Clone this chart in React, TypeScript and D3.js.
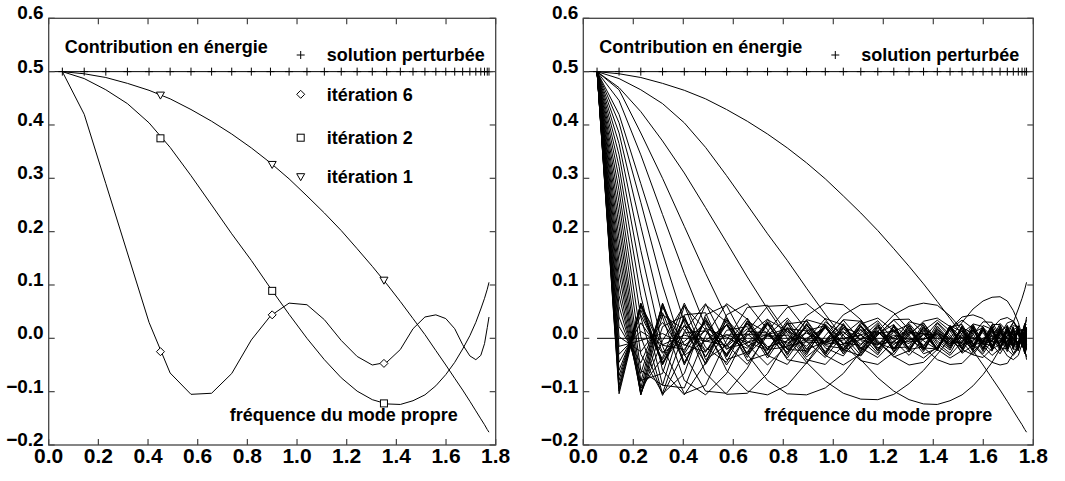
import React from "react";
import * as d3 from "d3";

// Mode frequencies (x positions of the "+" marks)
const NODES = [0.055, 0.143, 0.230, 0.317, 0.404, 0.489, 0.573, 0.656, 0.737, 0.816, 0.893, 0.968, 1.040, 1.110, 1.178, 1.242, 1.303, 1.361, 1.416, 1.467, 1.515, 1.559, 1.599, 1.635, 1.667, 1.696, 1.720, 1.740, 1.755, 1.766, 1.773];
const SOLUTION = [.5,.5,.5,.5,.5,.5,.5,.5,.5,.5,.5,.5,.5,.5,.5,.5,.5,.5,.5,.5,.5,.5,.5,.5,.5,.5,.5,.5,.5,.5,.5];
const ZERO = [0,0,0,0,0,0,0,0,0,0,0,0,0,0,0,0,0,0,0,0,0,0,0,0,0,0,0,0,0,0,0];

const IT1 = [.5,.496,.489,.478,.465,.449,.429,.407,.383,.357,.329,.299,.267,.235,.202,.168,.135,.102,.069,.037,.007,-.023,-.05,-.075,-.097,-.118,-.136,-.151,-.162,-.171,-.176];
const IT2 = [.5,.487,.466,.44,.404,.358,.305,.25,.196,.146,.094,.045,0,-.04,-.074,-.099,-.115,-.123,-.124,-.117,-.106,-.089,-.068,-.045,-.02,.005,.03,.055,.075,.092,.105];
const IT3 = [.5,.47,.425,.37,.31,.245,.18,.115,.055,0,-.045,-.08,-.103,-.114,-.115,-.105,-.085,-.06,-.03,0,.03,.055,.07,.077,.078,.07,.052,.03,.005,-.02,-.04];
const IT4 = [.5,.466,.385,.3,.21,.122,.04,-.03,-.079,-.104,-.106,-.093,-.066,-.025,.013,.044,.06,.066,.062,.042,.016,-.012,-.032,-.045,-.05,-.047,-.029,-.013,.006,.023,.035];
const IT5 = [.5,.446,.344,.232,.122,.022,-.06,-.099,-.106,-.088,-.046,.005,.044,.063,.065,.048,.016,-.017,-.04,-.049,-.047,-.026,-.004,.019,.035,.039,.032,.014,-.006,-.025,-.035];
const IT6 = [.5,.42,.29,.16,.03,-.065,-.105,-.103,-.066,-.003,.042,.066,.063,.035,-.004,-.034,-.05,-.045,-.021,.018,.04,.044,.037,.018,-.012,-.033,-.04,-.032,-.01,.02,.04];
const IT7 = [.5,.404,.255,.1,-.03,-.099,-.103,-.056,.013,.058,.065,.036,-.012,-.042,-.049,-.026,.006,.032,.038,.022,-.006,-.031,-.036,-.019,.007,.029,.033,.018,-.008,-.028,-.031];
const IT8 = [.5,.385,.21,.04,-.079,-.106,-.066,.013,.06,.062,.016,-.032,-.05,-.029,.006,.035,.036,.01,-.021,-.037,-.023,.007,.031,.03,.006,-.021,-.032,-.019,.008,.028,.026];
const IT9 = [.5,.365,.165,-.015,-.104,-.088,-.004,.058,.062,.009,-.04,-.049,-.013,.027,.038,.014,-.021,-.037,-.016,.018,.034,.018,-.014,-.032,-.019,.013,.03,.019,-.009,-.029,-.02];
const IT10 = [.5,.344,.122,-.06,-.106,-.046,.044,.065,.016,-.04,-.047,-.004,.035,.032,-.006,-.035,-.023,.014,.034,.014,-.021,-.031,-.006,.026,.026,-.003,-.028,-.02,.01,.028,.013];
const IT11 = [.5,.322,.08,-.088,-.093,.005,.065,.036,-.032,-.049,-.004,.037,.025,-.018,-.036,-.005,.031,.024,-.014,-.032,-.006,.027,.022,-.012,-.029,-.006,.024,.021,-.01,-.028,-.007];
const IT12 = [.5,.3,.04,-.104,-.066,.044,.062,-.012,-.05,-.013,.035,.025,-.021,-.033,.007,.034,.006,-.029,-.019,.021,.026,-.009,-.029,-.003,.028,.013,-.02,-.021,.011,.025,0];
const IT13 = [.5,.277,.003,-.107,-.025,.063,.03,-.042,-.029,.027,.032,-.018,-.033,.011,.033,-.004,-.032,-.001,.03,.007,-.028,-.013,.024,.017,-.02,-.019,.016,.022,-.011,-.023,.006];
const IT14 = [.5,.255,-.03,-.103,.013,.065,-.012,-.049,.006,.038,-.006,-.036,.007,.033,-.008,-.031,.008,.029,-.009,-.028,.01,.026,-.01,-.024,.011,.024,-.011,-.023,.012,.022,-.012];
const IT15 = [.5,.232,-.06,-.088,.044,.048,-.04,-.026,.035,.014,-.035,-.005,.034,-.004,-.031,.013,.026,-.018,-.02,.023,.013,-.026,-.007,.025,0,-.025,.006,.022,-.012,-.019,.017];
const IT16 = [.5,.21,-.079,-.066,.06,.016,-.05,.006,.036,-.021,-.023,.031,.006,-.032,.008,.026,-.021,-.016,.028,.002,-.026,.011,.02,-.021,-.01,.024,-.002,-.023,.013,.017,-.02];
const IT17 = [.5,.187,-.094,-.036,.066,-.017,-.045,.032,.01,-.037,.014,.024,-.029,-.001,.029,-.018,-.016,.028,-.005,-.022,.02,.009,-.025,.01,.018,-.021,-.002,.024,-.013,-.013,.021];
const IT18 = [.5,.165,-.104,-.004,.062,-.04,-.013,.038,-.021,-.016,.034,-.014,-.019,.03,-.009,-.02,.028,-.005,-.021,.023,0,-.023,.02,.004,-.023,.017,.007,-.022,.014,.009,-.021];
const IT19 = [.5,.143,-.106,.022,.042,-.049,.015,.022,-.037,.018,.014,-.032,.021,.007,-.028,.023,.002,-.022,.023,-.004,-.019,.024,-.008,-.015,.024,-.011,-.011,.023,-.014,-.007,.02];
const IT20 = [.5,.122,-.106,.044,.016,-.047,.035,-.006,-.023,.034,-.021,-.006,.026,-.028,.01,.013,-.026,.02,0,-.019,.024,-.012,-.008,.022,-.02,.005,.014,-.021,.015,.002,-.018];
const IT21 = [.5,.1,-.103,.058,-.012,-.026,.038,-.031,.007,.018,-.031,.027,-.009,-.013,.026,-.026,.011,.009,-.023,.024,-.012,-.006,.019,-.022,.014,.002,-.017,.022,-.015,0,.016];
const IT22 = [.5,.08,-.093,.065,-.032,-.004,.025,-.036,.031,-.014,-.006,.022,-.029,.024,-.01,-.007,.02,-.025,.02,-.008,-.008,.019,-.022,.016,-.005,-.01,.02,-.02,.015,-.003,-.011];
const IT23 = [.5,.06,-.081,.066,-.045,.019,.002,-.019,.03,-.032,.026,-.012,-.003,.017,-.024,.025,-.021,.01,.004,-.015,.022,-.022,.016,-.007,-.005,.015,-.02,.021,-.016,.005,.005];
const IT24 = [.5,.04,-.066,.062,-.05,.035,-.021,.007,.006,-.019,.026,-.029,.028,-.02,.011,0,-.01,.018,-.023,.024,-.02,.014,-.005,-.005,.012,-.018,.021,-.018,.016,-.008,0];
const IT25 = [.5,.022,-.046,.048,-.047,.039,-.035,.029,-.021,.013,-.003,-.006,.013,-.019,.024,-.025,.024,-.021,.017,-.011,.005,.002,-.01,.015,-.018,.021,-.021,.019,-.014,.011,-.006];
const IT26 = [.5,.003,-.025,.03,-.029,.032,-.033,.033,-.032,.03,-.028,.024,-.02,.016,-.011,.006,-.002,-.002,.007,-.011,.014,-.017,.02,-.02,.021,-.021,.019,-.017,.014,-.012,.009];
const IT27 = [.5,-.015,-.004,.009,-.013,.014,-.016,.018,-.019,.019,-.02,.021,-.021,.022,-.023,.022,-.023,.024,-.022,.023,-.021,.022,-.02,.021,-.018,.019,-.017,.017,-.015,.015,-.012];
const IT28 = [.5,-.03,.013,-.012,.006,-.006,.007,-.008,.008,-.009,.01,-.01,.011,-.011,.012,-.012,.013,-.013,.014,-.014,.015,-.015,.015,-.016,.016,-.014,.014,-.015,.015,-.015,.015];
const IT29 = [.5,-.045,.029,-.028,.023,-.025,.026,-.028,.028,-.029,.028,-.028,.025,-.023,.022,-.019,.017,-.014,.01,-.007,.002,0,-.003,.005,-.008,.011,-.012,.015,-.015,.016,-.019];
const IT30 = [.5,-.06,.044,-.04,.035,-.035,.034,-.031,.026,-.02,.013,-.007,0,.006,-.012,.017,-.02,.021,-.021,.02,-.018,.016,-.011,.005,0,-.006,.009,-.012,.015,-.019,.019];
const IT31 = [.5,-.07,.053,-.047,.039,-.035,.026,-.015,.004,.006,-.015,.022,-.025,.024,-.021,.015,-.007,-.002,.01,-.015,.021,-.021,.019,-.014,.009,0,-.006,.012,-.016,.019,-.016];
const IT32 = [.5,-.079,.06,-.05,.036,-.023,.006,.008,-.021,.028,-.026,.02,-.01,-.002,.013,-.02,.023,-.019,.012,-.003,-.008,.016,-.019,.02,-.015,.006,.003,-.009,.016,-.016,.017];
const IT33 = [.5,-.088,.065,-.049,.025,-.005,-.014,.027,-.029,.021,-.007,-.009,.02,-.025,.019,-.009,-.005,.015,-.02,.018,-.011,-.003,.011,-.017,.018,-.012,0,.01,-.016,.017,-.014];
const IT34 = [.5,-.094,.066,-.045,.01,.014,-.029,.029,-.016,-.005,.02,-.025,.018,-.002,-.013,.021,-.019,.007,.008,-.018,.019,-.011,0,.012,-.018,.016,-.003,-.007,.017,-.017,.007];
const IT35 = [.5,-.099,.065,-.026,-.006,.029,-.031,.013,.01,-.026,.024,-.008,-.012,.023,-.018,.002,.015,-.02,.016,0,-.014,.02,-.012,-.003,.015,-.016,.006,.007,-.017,.014,-.004];
const IT36 = [.5,-.104,.062,-.013,-.021,.034,-.019,-.009,.028,-.021,0,.02,-.023,.007,.014,-.021,.012,.008,-.018,.016,0,-.015,.018,-.006,-.009,.019,-.01,-.007,.017,-.014,0];

const LEFT_SERIES = [IT1, IT2, IT6];
const RIGHT_SERIES = [IT1, IT2, IT3, IT4, IT5, IT6, IT7, IT8, IT9, IT10, IT11, IT12, IT13, IT14, IT15, IT16, IT17, IT18, IT19, IT20, IT21, IT22, IT23, IT24, IT25, IT26, IT27, IT28, IT29, IT30, IT31, IT32, IT33, IT34, IT35, IT36];

const MARK_X = [0.45, 0.9, 1.35];
const MARK_IT1 = [0.456, 0.326, 0.109];
const MARK_IT2 = [0.375, 0.089, -0.122];
const MARK_IT6 = [-0.025, 0.044, -0.047];

const X_TICKS = [0, 0.2, 0.4, 0.6, 0.8, 1.0, 1.2, 1.4, 1.6, 1.8];
const X_LABELS = ["0.0", "0.2", "0.4", "0.6", "0.8", "1.0", "1.2", "1.4", "1.6", "1.8"];
const Y_TICKS = [-0.2, -0.1, 0.0, 0.1, 0.2, 0.3, 0.4, 0.5, 0.6];
const Y_LABELS = ["\u22120.2", "\u22120.1", "0.0", "0.1", "0.2", "0.3", "0.4", "0.5", "0.6"];

const TITLE = "Contribution en énergie";
const SOLUTION_LABEL = "solution perturbée";
const X_TITLE = "fréquence du mode propre";
const LEGEND = [
  { label: "itération 6", shape: "diamond" },
  { label: "itération 2", shape: "square" },
  { label: "itération 1", shape: "triangle" },
];

const FONT = "'Liberation Sans', Arial, Helvetica, sans-serif";
const TOP = 18.3;
const BOTTOM = 445;

function Marker({ shape, x, y }: { shape: string; x: number; y: number }) {
  if (shape === "diamond")
    return <path d={`M${x},${y - 4}L${x + 4},${y}L${x},${y + 4}L${x - 4},${y}Z`} fill="white" stroke="black" strokeWidth={1} />;
  if (shape === "square")
    return <rect x={x - 3.5} y={y - 3.5} width={7} height={7} fill="white" stroke="black" strokeWidth={1} />;
  if (shape === "triangle")
    return <path d={`M${x - 4},${y - 3}L${x + 4},${y - 3}L${x},${y + 4}Z`} fill="white" stroke="black" strokeWidth={1} />;
  return <path d={`M${x - 4},${y}H${x + 4}M${x},${y - 4}V${y + 4}`} stroke="black" strokeWidth={1} />;
}

function Panel({ x0, x1, series, markers, zeroLine, legend }: any) {
  const xs = d3.scaleLinear().domain([0, 1.8]).range([x0, x1]);
  const ys = d3.scaleLinear().domain([-0.2, 0.6]).range([BOTTOM, TOP]);
  const line = d3
    .line<number>()
    .x((_, i) => xs(NODES[i]))
    .y((d) => ys(d));
  const tick = 6;
  return (
    <g fontFamily={FONT} fontWeight="bold" fill="black">
      {series.map((s: number[], i: number) => (
        <path key={i} d={line(s) || ""} fill="none" stroke="black" strokeWidth={1} />
      ))}
      {zeroLine && <path d={line(ZERO) || ""} fill="none" stroke="black" strokeWidth={1} />}
      <line x1={xs(0)} x2={xs(NODES[NODES.length - 1])} y1={ys(SOLUTION[0])} y2={ys(SOLUTION[0])} stroke="black" strokeWidth={1} />
      {NODES.map((n, i) => (
        <Marker key={"s" + i} shape="plus" x={xs(n)} y={ys(SOLUTION[i])} />
      ))}
      {markers &&
        MARK_X.map((mx, i) => (
          <g key={"m" + i}>
            <Marker shape="triangle" x={xs(mx)} y={ys(MARK_IT1[i])} />
            <Marker shape="square" x={xs(mx)} y={ys(MARK_IT2[i])} />
            <Marker shape="diamond" x={xs(mx)} y={ys(MARK_IT6[i])} />
          </g>
        ))}
      <rect x={x0} y={TOP} width={x1 - x0} height={BOTTOM - TOP} fill="none" stroke="#444" strokeWidth={1.3} />
      {X_TICKS.map((t, i) => (
        <g key={"xt" + i}>
          <line x1={xs(t)} x2={xs(t)} y1={BOTTOM} y2={BOTTOM - tick} stroke="#444" strokeWidth={1.2} />
          <line x1={xs(t)} x2={xs(t)} y1={TOP} y2={TOP + tick} stroke="#444" strokeWidth={1.2} />
          <text x={xs(t)} y={463} textAnchor="middle" fontSize={21}>
            {X_LABELS[i]}
          </text>
        </g>
      ))}
      {Y_TICKS.map((t, i) => (
        <g key={"yt" + i}>
          <line x1={x0} x2={x0 + tick} y1={ys(t)} y2={ys(t)} stroke="#444" strokeWidth={1.2} />
          <line x1={x1} x2={x1 - tick} y1={ys(t)} y2={ys(t)} stroke="#444" strokeWidth={1.2} />
          <text x={x0 - 5} y={ys(t) + 1} textAnchor="end" fontSize={19}>
            {Y_LABELS[i]}
          </text>
        </g>
      ))}
      <text x={x0 + 16} y={52.5} fontSize={18}>
        {TITLE}
      </text>
      <Marker shape="plus" x={x0 + 252} y={55} />
      <text x={x0 + 278} y={61} fontSize={18}>
        {SOLUTION_LABEL}
      </text>
      {legend &&
        LEGEND.map((l, i) => {
          const ly = [94.3, 137.7, 176.7][i];
          return (
            <g key={"lg" + i}>
              <Marker shape={l.shape} x={x0 + 252} y={ly} />
              <text x={x0 + 278} y={ly + 6.5} fontSize={18}>
                {l.label}
              </text>
            </g>
          );
        })}
      <text x={x0 + 181} y={421} fontSize={18}>
        {X_TITLE}
      </text>
    </g>
  );
}

export default function App() {
  return (
    <svg width={1065} height={481} style={{ position: "absolute", left: 0, top: 0, background: "white" }}>
      <rect width={1065} height={481} fill="white" />
      <Panel x0={48.7} x1={495.7} series={LEFT_SERIES} markers legend />
      <Panel x0={583.3} x1={1033.3} series={RIGHT_SERIES} zeroLine />
    </svg>
  );
}
